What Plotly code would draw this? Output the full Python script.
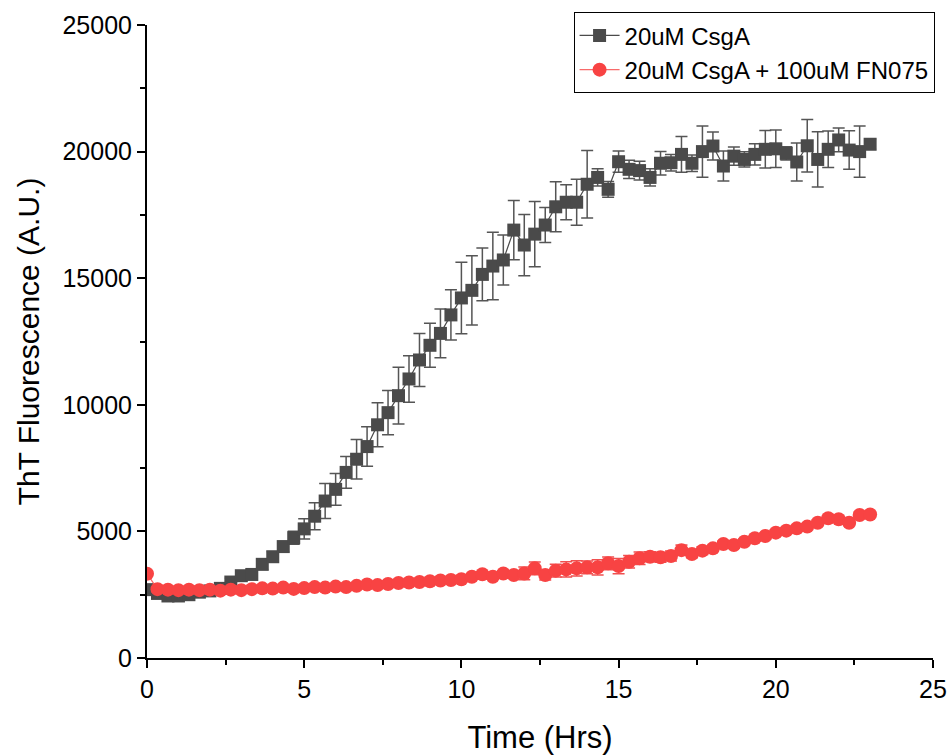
import plotly.graph_objects as go

time_hrs = [round(i / 3, 4) for i in range(70)]

csga = [2700, 2550, 2450, 2450, 2500, 2600, 2650, 2750, 3000, 3250, 3300, 3700, 4000, 4400, 4750, 5100, 5600, 6200,
        6660, 7330, 7850, 8350, 9210, 9690, 10360, 11020, 11770, 12350, 12820, 13550, 14220, 14520, 15150, 15480,
        15720, 16900, 16310, 16740, 17100, 17820, 18000, 18000, 18710, 18980, 18510, 19600, 19300, 19250, 18980, 19540, 19560, 19890,
        19540, 20000, 20220, 19430, 19820, 19690, 19890, 20090, 20110, 19930, 19590, 20230, 19690, 20090, 20460, 20060, 20000, 20290]

csga_err = [150, 150, 150, 150, 150, 150, 150, 150, 150, 150, 200, 200, 200, 200, 260, 400, 530, 690,
            630, 630, 780, 780, 870, 870, 1120, 920, 1050, 870, 960, 990, 1410, 1370, 1040, 1330,
            990, 1170, 1210, 1290, 690, 990, 690, 910, 1330, 340, 310, 420, 360, 370, 340, 460, 330, 710,
            330, 1010, 550, 590, 360, 300, 420, 740, 740, 260, 750, 1040, 1090, 720, 470, 760, 1010, 200]

csga_fn = [3330, 2720, 2700, 2680, 2700, 2680, 2700, 2660, 2700, 2680, 2720, 2750, 2740, 2780, 2730, 2760, 2800, 2780,
           2820, 2800, 2850, 2900, 2880, 2920, 2960, 2980, 3000, 3030, 3060,
           3080, 3110, 3210, 3310, 3210, 3340, 3280, 3340, 3540, 3280, 3450, 3500, 3540, 3580, 3580, 3740, 3630, 3800,
           3940, 4000, 3980, 4030, 4260, 4110, 4240, 4330, 4500, 4460, 4590, 4730, 4820, 4950, 5030, 5120, 5190, 5340,
           5520, 5480, 5340, 5650, 5670]

csga_fn_err = [100] * 36 + [250, 250, 200, 250, 300, 300, 250, 300, 250, 300, 250, 250, 200, 200, 200, 200, 150, 150] + [120] * 16

names = ["20uM CsgA", "20uM CsgA + 100uM FN075"]
x_ticks = [0, 5, 10, 15, 20, 25]
y_ticks = [0, 5000, 10000, 15000, 20000, 25000]

fig = go.Figure()
fig.add_trace(go.Scatter(
    x=time_hrs, y=csga, name=names[0], mode="lines+markers",
    line=dict(color="#4a4a4a", width=1.2),
    marker=dict(symbol="square", size=13, color="#4a4a4a"),
    error_y=dict(type="data", array=csga_err, visible=True, color="#555555", thickness=1.5, width=6),
))
fig.add_trace(go.Scatter(
    x=time_hrs, y=csga_fn, name=names[1], mode="lines+markers",
    line=dict(color="#f86a6a", width=1.2),
    marker=dict(symbol="circle", size=14, color="#f84343"),
    error_y=dict(type="data", array=csga_fn_err, visible=True, color="#f05050", thickness=1.5, width=6),
))

font_family = "Liberation Sans, Arial, sans-serif"
fig.update_layout(
    width=951, height=755,
    margin=dict(l=147, r=18, t=25, b=97, autoexpand=False),
    paper_bgcolor="white", plot_bgcolor="white",
    font=dict(family=font_family, color="black", size=25),
    showlegend=True,
    legend=dict(x=1.002, xanchor="right", y=1.02, yanchor="top",
                bgcolor="white", bordercolor="black", borderwidth=1,
                font=dict(size=24, family=font_family), tracegroupgap=0,
                itemwidth=40),
    xaxis=dict(range=[0, 25], tickvals=x_ticks, ticktext=[str(v) for v in x_ticks],
               showgrid=False, zeroline=False, automargin=False,
               showline=True, linecolor="black", linewidth=2, ticks="outside", ticklen=8,
               tickwidth=2, tickcolor="black",
               minor=dict(tickvals=[2.5, 7.5, 12.5, 17.5, 22.5], ticks="outside", ticklen=5, tickwidth=2, tickcolor="black"),
               title=dict(text="Time (Hrs)", font=dict(size=31), standoff=28),
               tickfont=dict(size=25)),
    yaxis=dict(range=[0, 25000], tickvals=y_ticks, ticktext=[str(v) for v in y_ticks],
               showgrid=False, zeroline=False, automargin=False,
               showline=True, linecolor="black", linewidth=2, ticks="outside", ticklen=8,
               tickwidth=2, tickcolor="black",
               minor=dict(tickvals=[2500, 7500, 12500, 17500, 22500], ticks="outside", ticklen=5, tickwidth=2, tickcolor="black"),
               title=dict(text="ThT Fluorescence (A.U.)", font=dict(size=30), standoff=14),
               tickfont=dict(size=25)),
)

fig.write_html("out.html")
